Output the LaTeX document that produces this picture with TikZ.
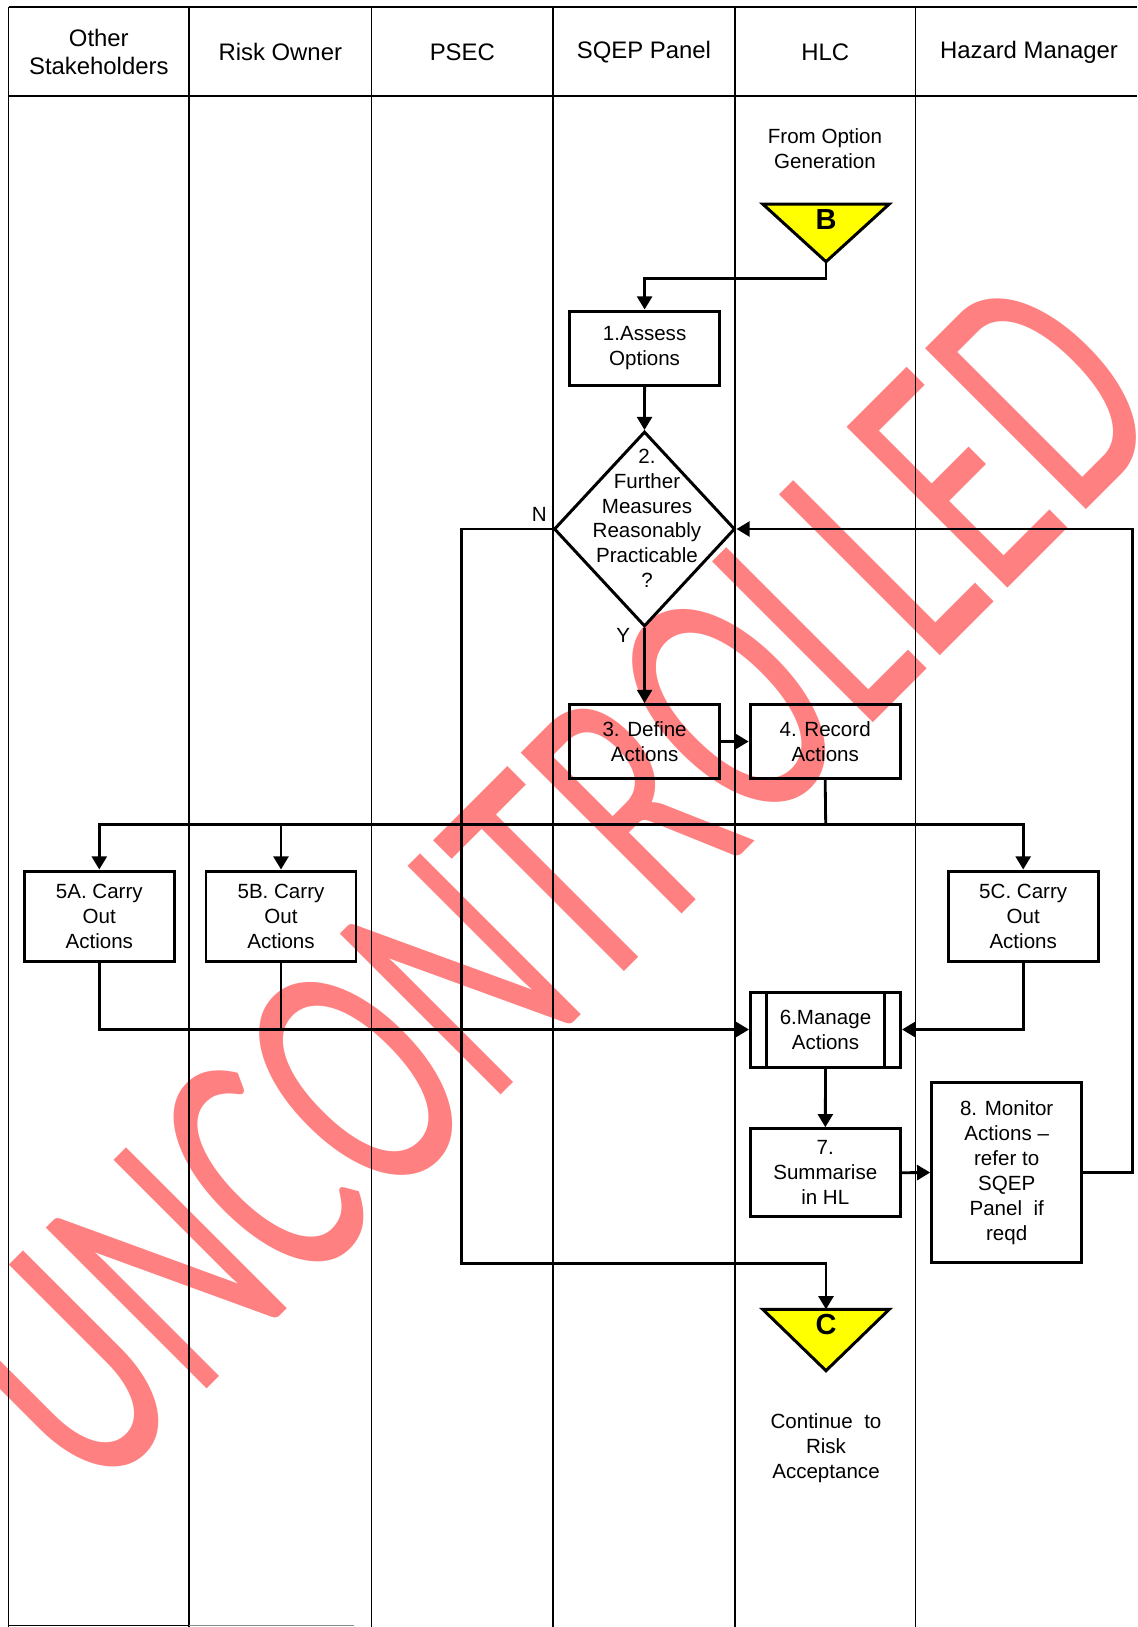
\documentclass[tikz,border=0pt]{standalone}
\usepackage{fontspec}
\setmainfont{Liberation Sans}
\newfontfamily\stampfont{Carlito}
\usetikzlibrary{arrows.meta,shapes.geometric,calc}
\newlength\pxu
\setlength\pxu{0.02cm}
\definecolor{wmpink}{RGB}{255,128,128}
\definecolor{flagyellow}{RGB}{255,255,0}
\newcommand\boxfont{\fontsize{11.7}{14.2}\selectfont}
\newcommand\headfont{\fontsize{13.6}{15.5}\selectfont}

\begin{document}
\begin{tikzpicture}[x=0.02cm,y=-0.02cm,
  lane/.style={line width=1.1pt, black},
  conn/.style={line width=1.6pt, line join=miter},
  arr/.style={conn, -{Triangle[length=7.5pt,width=8.5pt]}},
  box/.style={draw, line width=1.7pt, minimum width=150\pxu, inner sep=0pt, align=center, font=\boxfont},
  decision/.style={diamond, draw, line width=1.7pt, minimum width=181\pxu, minimum height=195\pxu, inner sep=0pt},
  flag/.style={draw, line width=1.7pt, fill=flagyellow, line join=miter},
  flagtext/.style={font=\bfseries\fontsize{16.5}{18}\selectfont, inner sep=0pt},
  plain/.style={align=center, font=\boxfont, inner sep=0pt},
  head/.style={align=center, font=\headfont, inner sep=0pt},
]
\useasboundingbox (0,0) rectangle (1137,1627);
\fill[white] (0,0) rectangle (1137,1627);
\clip (0,0) rectangle (1137,1627);

% watermark behind everything
\node[rotate=45, xscale=0.639, anchor=base west, inner sep=0pt, text=wmpink,
      font=\stampfont\fontsize{201.8}{201.8}\selectfont] (wm) at (92.75,1503.25) {UNCONTROLLED};

% swim lanes
\foreach \x in {8.5,189,371.5,553,735,915.5}
  \draw[lane] (\x,7) -- (\x,1627);
\draw[lane] (8.5,7) -- (1137,7);
\draw[lane] (8.5,96) -- (1137,96);
\draw[lane] (8.5,1625.5) -- (189,1625.5);
\draw[lane, black!45] (189,1625.5) -- (354,1625.5);

% lane headings
\node[head] (hOther) at (98.8,52) {Other\\Stakeholders};
\node[head] (hRisk)  at (280.3,52) {Risk Owner};
\node[head] (hPsec)  at (462.3,52) {PSEC};
\node[head] (hSqep)  at (644,52) {SQEP Panel};
\node[head] (hHlc)   at (825.3,52) {HLC};
\node[head] (hHaz)   at (1029,52) {Hazard Manager};

% entry connector B
\node[plain] (fromtxt) at (825,148.5) {From Option\\Generation};
\filldraw[flag] (762.7,204) -- (889.3,204) -- (826,261.7) -- cycle;
\coordinate (bapex) at (826,261.7);
\node[flagtext] (lblB) at (826,219.5) {B};

% process steps
\node[box, minimum height=74\pxu] (b1) at (644.6,348) {1.Assess\\Options};
\node[decision] (d2) at (644.5,529) {};
\node[plain] (d2txt) at (647,518.3) {2.\\Further\\Measures\\Reasonably\\Practicable\\?};
\node[plain] (lblN) at (539.3,514.3) {N};
\node[plain] (lblY) at (623.2,635.7) {Y};
\node[box, minimum height=74\pxu] (b3) at (644.6,741.5) {3. Define\\Actions};
\node[box, minimum height=74\pxu] (b4) at (825.2,741.5) {4. Record\\Actions};
\node[box, minimum height=90\pxu] (b5a) at (99.3,916) {5A. Carry\\Out\\Actions};
\node[box, minimum height=90\pxu] (b5b) at (281,916) {5B. Carry\\Out\\Actions};
\node[box, minimum height=90\pxu] (b5c) at (1023.2,916) {5C. Carry\\Out\\Actions};
\node[box, minimum height=75\pxu] (b6) at (825.5,1029.5) {6.Manage\\Actions};
\draw[line width=1.7pt] ([xshift=17.5\pxu]b6.north west) -- ([xshift=17.5\pxu]b6.south west);
\draw[line width=1.7pt] ([xshift=-17.5\pxu]b6.north east) -- ([xshift=-17.5\pxu]b6.south east);
\node[box, minimum height=88\pxu] (b7) at (825.3,1172.7) {7.\\Summarise\\in HL};
\node[box, minimum height=180\pxu] (b8) at (1006.7,1172.5) {8. Monitor\\Actions –\\refer to\\SQEP\\Panel\ \ if\\reqd};

% exit connector C
\filldraw[flag] (762.7,1309.3) -- (889.3,1309.3) -- (826,1370.7) -- cycle;
\coordinate (ctop) at (826,1309.3);
\node[flagtext] (lblC) at (826,1325) {C};
\node[plain] (conttxt) at (826,1448.3) {Continue\ \ to\\Risk\\Acceptance};

% connectors
\coordinate (bus) at (825.7,824.3);
\coordinate (nturn) at (461.4,1263.3);
\draw[arr] (bapex) -- ++(0,16.6) -| (b1.north);
\draw[arr] (b1.south) -- (d2.north);
\draw[arr] (d2.south) -- (b3.north);
\draw[arr] (b3.east) -- (b4.west);
\draw[conn] (b4.south) -- (bus);
\draw[arr] (bus) -| (b5a.north);
\draw[arr] (bus) -| (b5b.north);
\draw[arr] (bus) -| (b5c.north);
\draw[arr] (b5a.south) |- (b6.west);
\draw[conn] (b5b.south) -- (b5b.south |- b6.west);
\draw[arr] (b5c.south) |- (b6.east);
\draw[arr] (b6.south) -- (b7.north);
\draw[arr] (b7.east) -- (b8.west);
\draw[arr] (b8.east) -- ++(49,0) |- (d2.east);
\draw[arr] (d2.west) -| (nturn) -| (ctop);
\end{tikzpicture}
\end{document}
